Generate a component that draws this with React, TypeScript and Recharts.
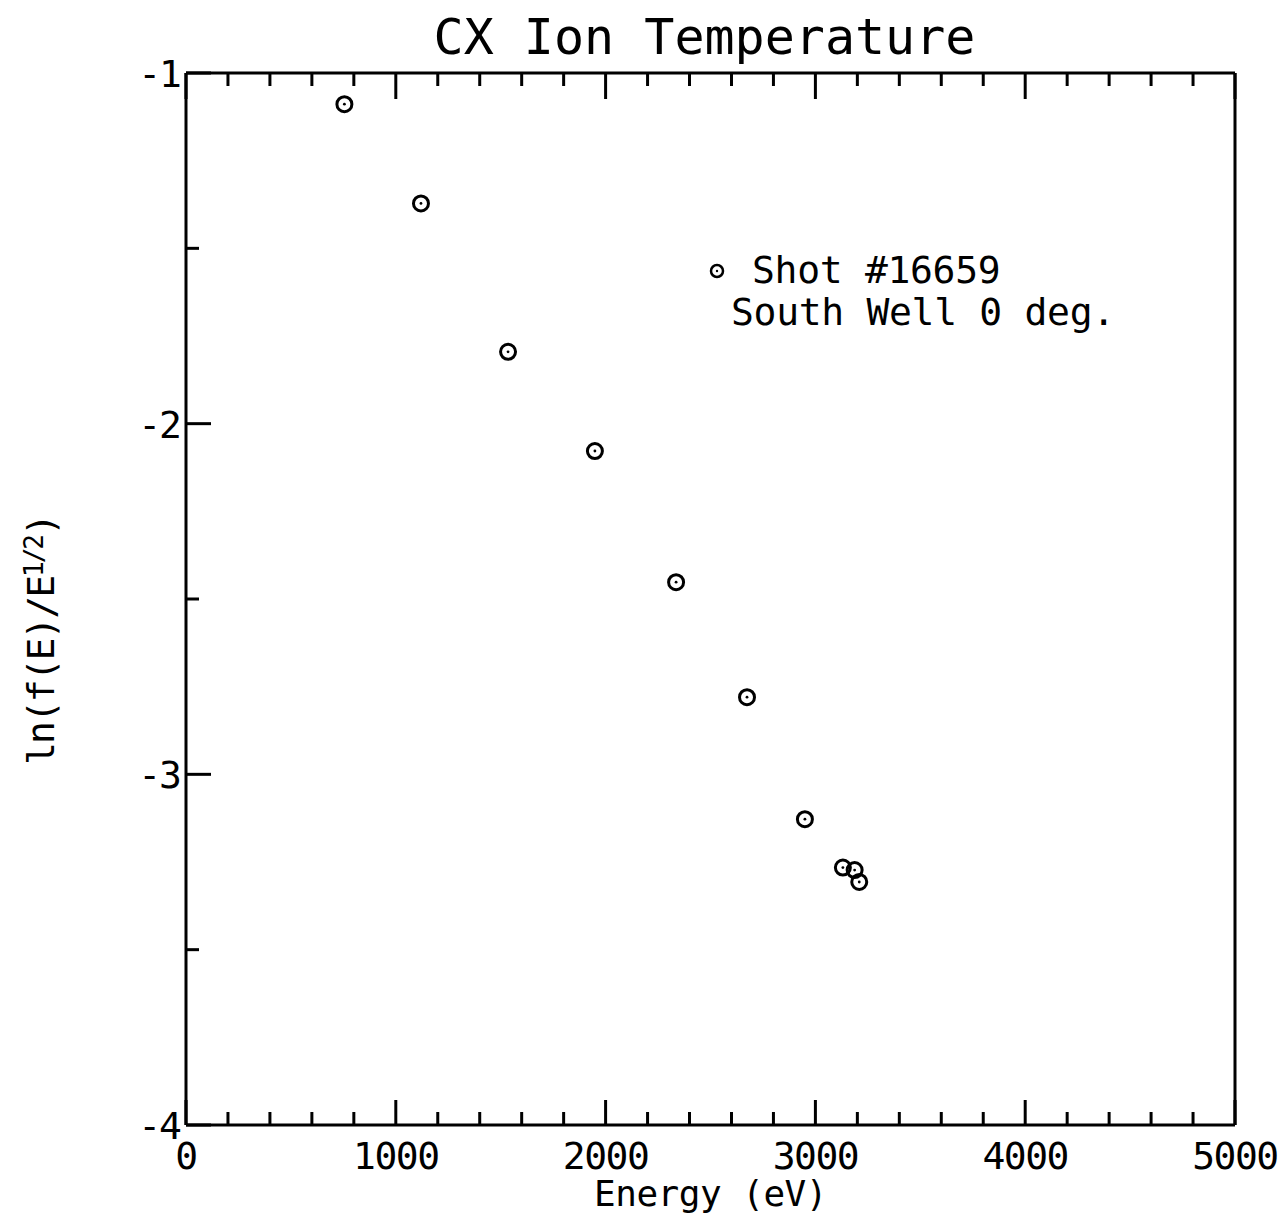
import React from 'react';
import { ScatterChart, Scatter, XAxis, YAxis } from 'recharts';

// energy (eV) and ln(f(E)/E^1/2)
const energy = [755, 1120, 1535, 1949, 2336, 2674, 2950, 3131, 3187, 3209];
const lnValues = [-1.089, -1.372, -1.795, -2.078, -2.452, -2.780, -3.128, -3.266, -3.273, -3.307];

// every 200 eV gets a tick, every 1000 eV a long tick and a label
const xTicks = [0, 200, 400, 600, 800, 1000, 1200, 1400, 1600, 1800, 2000, 2200, 2400, 2600, 2800, 3000, 3200, 3400, 3600, 3800, 4000, 4200, 4400, 4600, 4800, 5000];
const yTicks = [-4, -3.5, -3, -2.5, -2, -1.5, -1];

const legendLines = ['Shot #16659', 'South Well 0 deg.'];

const data = energy.map((e, i) => ({ e, v: lnValues[i] }));

const FONT = '"DejaVu Sans Mono", "Liberation Mono", monospace';
const INK = '#000';
const MAJOR = 25;
const MINOR = 13;

// chart box
const W = 1285;
const H = 1224;
const MARGIN = { top: 72, right: 49, bottom: 0, left: 0 };
const Y_AXIS_W = 186;
const X_AXIS_H = 99;
const PLOT_W = W - MARGIN.left - MARGIN.right - Y_AXIS_W - 1;
const PLOT_H = H - MARGIN.top - MARGIN.bottom - X_AXIS_H - 1;

const isMajorX = (v: number) => v % 1000 === 0;
const isMajorY = (v: number) => Number.isInteger(v);

// open circle with a dot in the middle
function Marker(props: any) {
  const { cx, cy } = props;
  if (cx == null || cy == null) return <g />;
  return (
    <g>
      <circle cx={cx} cy={cy} r={7.5} fill="none" stroke={INK} strokeWidth={3} />
      <circle cx={cx} cy={cy} r={1.4} fill={INK} />
    </g>
  );
}

// bottom axis: inward tick at the bottom and its twin at the top edge, plus label
function BottomTick(props: any) {
  const { x, y, payload } = props;
  const major = isMajorX(payload.value);
  const len = major ? MAJOR : MINOR;
  const top = y - PLOT_H;
  return (
    <g>
      <line x1={x} x2={x} y1={y} y2={y - len} stroke={INK} strokeWidth={3} />
      <line x1={x} x2={x} y1={top} y2={top + len + (major ? 1 : 0)} stroke={INK} strokeWidth={3} />
      {major && (
        <text x={x} y={y + 44} textAnchor="middle" fontFamily={FONT} fontSize={38} letterSpacing={-1.5} fill={INK}>
          {payload.value}
        </text>
      )}
    </g>
  );
}

// right axis: inward tick at the right edge and its twin at the left edge
function RightTick(props: any) {
  const { x, y, payload } = props;
  const len = isMajorY(payload.value) ? MAJOR : MINOR;
  const left = x - PLOT_W;
  return (
    <g>
      <line x1={x} x2={x - len} y1={y} y2={y} stroke={INK} strokeWidth={3} />
      <line x1={left} x2={left + len} y1={y} y2={y} stroke={INK} strokeWidth={3} />
    </g>
  );
}

// left axis: inward tick plus the label at whole numbers
function LeftTick(props: any) {
  const { x, y, payload } = props;
  const major = isMajorY(payload.value);
  return (
    <g>
      <line x1={x} x2={x + (major ? MAJOR : MINOR)} y1={y} y2={y} stroke={INK} strokeWidth={3} />
      {major && (
        <text x={x - 6} y={y + 14} textAnchor="end" fontFamily={FONT} fontSize={38} letterSpacing={-2} fill={INK}>
          {payload.value}
        </text>
      )}
    </g>
  );
}

const NoLabel = () => <g />;

function YTitle() {
  const cx = 54;
  const cy = 73 + PLOT_H / 2 + 41;
  return (
    <text
      x={cx}
      y={cy}
      transform={`rotate(-90 ${cx} ${cy})`}
      textAnchor="middle"
      fontFamily={FONT}
      fontSize={38}
      letterSpacing={-2}
      fill={INK}
    >
      <tspan>ln(f(E)/E</tspan>
      <tspan fontSize={26} dy={-11}>1/2</tspan>
      <tspan dy={11}>)</tspan>
    </text>
  );
}

function XTitle() {
  const cx = Y_AXIS_W + PLOT_W / 2;
  return (
    <text x={cx} y={1206} textAnchor="middle" fontFamily={FONT} fontSize={36} letterSpacing={-0.5} fill={INK}>
      Energy (eV)
    </text>
  );
}

const frame = { stroke: INK, strokeWidth: 3 };

export default function App() {
  return (
    <div style={{ position: 'absolute', left: 0, top: 0, width: W, height: H, background: '#fff' }}>
      <div
        style={{
          position: 'absolute',
          left: 180,
          width: PLOT_W,
          top: 9,
          textAlign: 'center',
          fontFamily: FONT,
          fontSize: 50,
          color: INK,
          lineHeight: '56px',
        }}
      >
        CX Ion Temperature
      </div>
      <ScatterChart width={W} height={H} margin={MARGIN}>
        <XAxis
          xAxisId="x"
          type="number"
          dataKey="e"
          domain={[0, 5000]}
          ticks={xTicks}
          interval={0}
          height={X_AXIS_H}
          axisLine={frame}
          tickLine={false}
          tickSize={0}
          tickMargin={0}
          tick={BottomTick}
          label={{ content: XTitle }}
        />
        <XAxis
          xAxisId="top"
          orientation="top"
          type="number"
          domain={[0, 5000]}
          height={1}
          axisLine={frame}
          tickLine={false}
          tick={NoLabel}
        />
        <YAxis
          yAxisId="y"
          type="number"
          dataKey="v"
          domain={[-4, -1]}
          ticks={yTicks}
          interval={0}
          width={Y_AXIS_W}
          axisLine={frame}
          tickLine={false}
          tickSize={0}
          tickMargin={0}
          tick={LeftTick}
          label={{ content: YTitle }}
        />
        <YAxis
          yAxisId="right"
          orientation="right"
          type="number"
          domain={[-4, -1]}
          ticks={yTicks}
          interval={0}
          width={1}
          axisLine={frame}
          tickLine={false}
          tickSize={0}
          tickMargin={0}
          tick={RightTick}
        />
        <Scatter
          name="Shot #16659"
          data={data}
          xAxisId="x"
          yAxisId="y"
          shape={Marker}
          isAnimationActive={false}
        />
      </ScatterChart>
      {/* legend block */}
      <div
        style={{
          position: 'absolute',
          left: 694,
          top: 249,
          fontFamily: FONT,
          fontSize: 38,
          color: INK,
          lineHeight: '42px',
          letterSpacing: -0.3,
          whiteSpace: 'pre',
        }}
      >
        <div style={{ display: 'flex', alignItems: 'center' }}>
          <svg width={58} height={42} style={{ display: 'block' }}>
            <circle cx={23} cy={22} r={6} fill="none" stroke={INK} strokeWidth={2.5} />
            <circle cx={23} cy={22} r={1.2} fill={INK} />
          </svg>
          <span>{legendLines[0]}</span>
        </div>
        <div style={{ paddingLeft: 37 }}>{legendLines[1]}</div>
      </div>
    </div>
  );
}
